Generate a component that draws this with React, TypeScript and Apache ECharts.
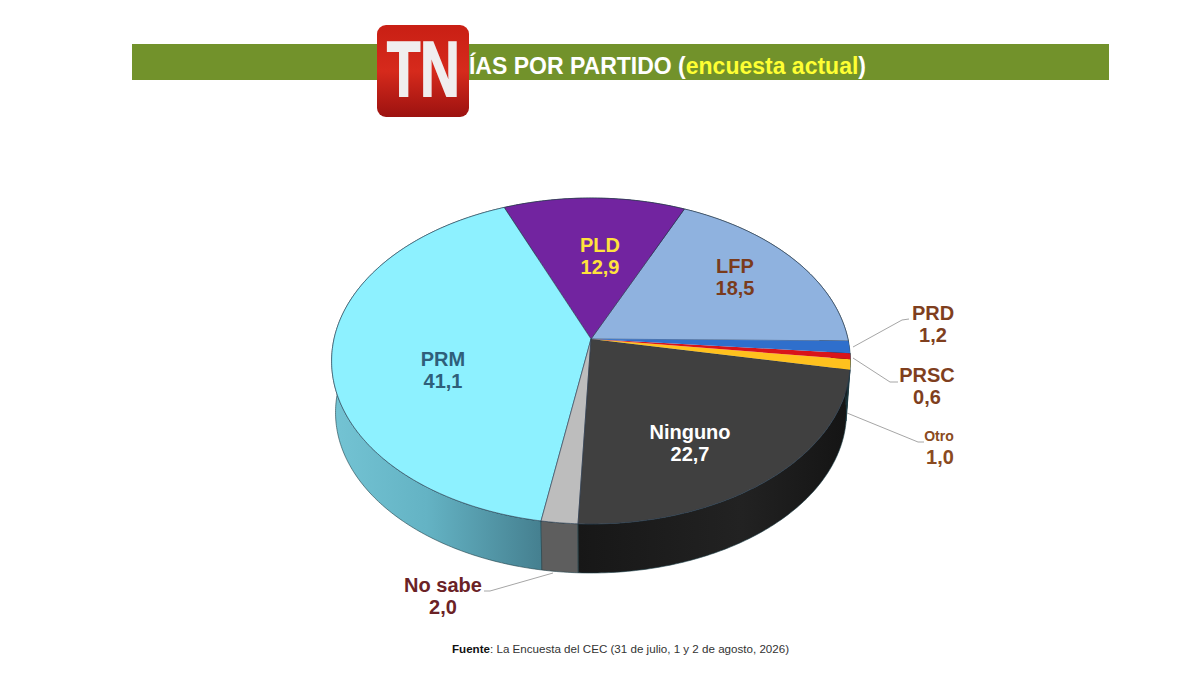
import React, { useEffect, useRef } from "react";
import * as echarts from "echarts";

// Data: counter-clockwise from the east edge of the pie
const categories = ["LFP", "PLD", "PRM", "No sabe", "Ninguno", "Otro", "PRSC", "PRD"];
const values = [18.5, 12.9, 41.1, 2.0, 22.7, 1.0, 0.6, 1.2];
const valueLabels = ["18,5", "12,9", "41,1", "2,0", "22,7", "1,0", "0,6", "1,2"];

const topColors = ["#8FB2DF", "#7224A0", "#8DF1FF", "#BDBDBD", "#404040", "#FFC11E", "#D9141A", "#2F6FCC"];
const labelColors = ["#7A3B1C", "#FFE23C", "#2F5F7A", "#6B2226", "#FFFFFF", "#8A4A20", "#7F3F1E", "#7F3F1E"];

const CX = 591, CY = 339;
const B = 257, A = 160, P = 0.135;
const DEPTH = 51.8, SCALE = 0.985;
const ROT = -0.7;
const total = values.reduce((a, b) => a + b, 0);

const project = (deg: number, bottom: boolean): number[] => {
  const r = (deg * Math.PI) / 180;
  const u = Math.cos(r), v = Math.sin(r);
  const d = 1 + P * v;
  const x = (B * u) / d, y = (-A * v) / d;
  return bottom ? [CX + SCALE * x, CY + DEPTH + SCALE * y] : [CX + x, CY + y];
};

const span = (i: number): number[] => {
  let s = ROT;
  for (let k = 0; k < i; k++) s += (values[k] / total) * 360;
  return [s, s + (values[i] / total) * 360];
};

const arc = (a0: number, a1: number, bottom: boolean): number[][] => {
  const n = Math.max(2, Math.ceil((a1 - a0) / 0.75));
  const out: number[][] = [];
  for (let i = 0; i <= n; i++) out.push(project(a0 + ((a1 - a0) * i) / n, bottom));
  return out;
};

const sideFill = (i: number): any => {
  const name = categories[i];
  if (name === "PRM")
    return new echarts.graphic.LinearGradient(330, 0, 545, 0, [
      { offset: 0, color: "#74C4D4" },
      { offset: 0.45, color: "#64B3C4" },
      { offset: 1, color: "#447E8E" },
    ], true);
  if (name === "No sabe") return "#5E5E5E";
  if (name === "Ninguno")
    return new echarts.graphic.LinearGradient(578, 0, 850, 0, [
      { offset: 0, color: "#171717" },
      { offset: 0.6, color: "#222222" },
      { offset: 1, color: "#141414" },
    ], true);
  return "#141414";
};

const labelLayout: Record<string, { x: number; y: number; size?: number; dy?: number }> = {
  LFP: { x: 735, y: 266 },
  PLD: { x: 600, y: 245 },
  PRM: { x: 443, y: 359 },
  "No sabe": { x: 443, y: 585 },
  Ninguno: { x: 690, y: 432 },
  Otro: { x: 939, y: 436, size: 14, dy: 21 },
  PRSC: { x: 927, y: 375 },
  PRD: { x: 933, y: 313 },
};

const leaderLines: number[][][] = [
  [[853, 347], [902, 320], [909, 319]],
  [[853, 358], [890, 382], [898, 382]],
  [[847, 413], [918, 442], [924, 442]],
  [[553, 573], [490, 591], [484, 591]],
];

const FONT = '"Liberation Sans", Arial, sans-serif';

export default function App() {
  const ref = useRef<HTMLDivElement>(null);
  useEffect(() => {
    const chart = echarts.init(ref.current!, null, { renderer: "svg" });
    const labels: any[] = [];
    categories.forEach((c, i) => {
      const l = labelLayout[c];
      const size = l.size || 20;
      labels.push({ type: "text", z: 30, x: l.x, y: l.y, style: { text: c, font: `bold ${size}px ${FONT}`, fill: labelColors[i], align: "center", verticalAlign: "middle" } });
      labels.push({ type: "text", z: 30, x: l.x + (c === "Otro" ? 1 : 0), y: l.y + (l.dy || 22), style: { text: valueLabels[i], font: `bold 20px ${FONT}`, fill: labelColors[i], align: "center", verticalAlign: "middle" } });
    });
    chart.setOption({
      animation: false,
      backgroundColor: "#FFFFFF",
      series: [
        {
          type: "custom",
          coordinateSystem: "none",
          silent: true,
          z: 2,
          data: values.map((v) => [v]),
          renderItem: (params: any) => {
            const i = params.dataIndex;
            const [a0, a1] = span(i);
            const pts = arc(a0, a1, false).concat(arc(a0, a1, true).reverse());
            return { type: "polygon", shape: { points: pts }, style: { fill: sideFill(i), stroke: "#1F3F48", lineWidth: 0.6 } };
          },
        },
        {
          type: "custom",
          coordinateSystem: "none",
          silent: true,
          z: 3,
          data: values.map((v) => [v]),
          renderItem: (params: any) => {
            const i = params.dataIndex;
            const [a0, a1] = span(i);
            const pts = [[CX, CY]].concat(arc(a0, a1, false));
            const small = values[i] < 1.5;
            return { type: "polygon", shape: { points: pts }, style: { fill: topColors[i], stroke: small ? topColors[i] : "#2A3A50", lineWidth: small ? 0 : 0.6 } };
          },
        },
      ],
      graphic: [
        { type: "rect", z: 10, shape: { x: 132, y: 44, width: 977, height: 36 }, style: { fill: "#72922B" } },
        {
          type: "text", z: 11, x: 866, y: 66,
          style: {
            text: "{w|ÍAS POR PARTIDO (}{y|encuesta actual}{w|)}",
            align: "right", verticalAlign: "middle",
            rich: {
              w: { fontFamily: "Liberation Sans", fontWeight: "bold", fontSize: 23, fill: "#FFFFFF" },
              y: { fontFamily: "Liberation Sans", fontWeight: "bold", fontSize: 23, fill: "#FFFF33" },
            },
          },
        },
        {
          type: "rect", z: 12,
          shape: { x: 377, y: 25, width: 92, height: 92, r: 9 },
          style: {
            fill: new echarts.graphic.LinearGradient(0, 0, 0, 1, [
              { offset: 0, color: "#C91F14" },
              { offset: 0.5, color: "#D62A1C" },
              { offset: 1, color: "#9C1210" },
            ]),
          },
        },
        {
          type: "text", z: 14, x: 387, y: 108, scaleX: 0.7,
          style: { text: "TN", font: `bold 78px ${FONT}`, fill: "#F0EEEE", stroke: "#F0EEEE", lineWidth: 2, align: "left", verticalAlign: "bottom" },
        },
        ...leaderLines.map((pts) => ({
          type: "polyline", z: 15, shape: { points: pts }, style: { stroke: "#A6A6A6", lineWidth: 1, fill: "none" },
        })),
        ...labels,
        {
          type: "text", z: 30, x: 452, y: 648,
          style: {
            text: "{b|Fuente}{n|: La Encuesta del CEC (31 de julio, 1 y 2 de agosto, 2026)}",
            align: "left", verticalAlign: "middle",
            rich: {
              b: { fontFamily: "Liberation Sans", fontWeight: "bold", fontSize: 11.6, fill: "#111111" },
              n: { fontFamily: "Liberation Sans", fontSize: 11.6, fill: "#333333" },
            },
          },
        },
      ],
    });
    return () => chart.dispose();
  }, []);
  return <div ref={ref} style={{ position: "fixed", left: 0, top: 0, width: 1200, height: 675, background: "#FFFFFF" }} />;
}
